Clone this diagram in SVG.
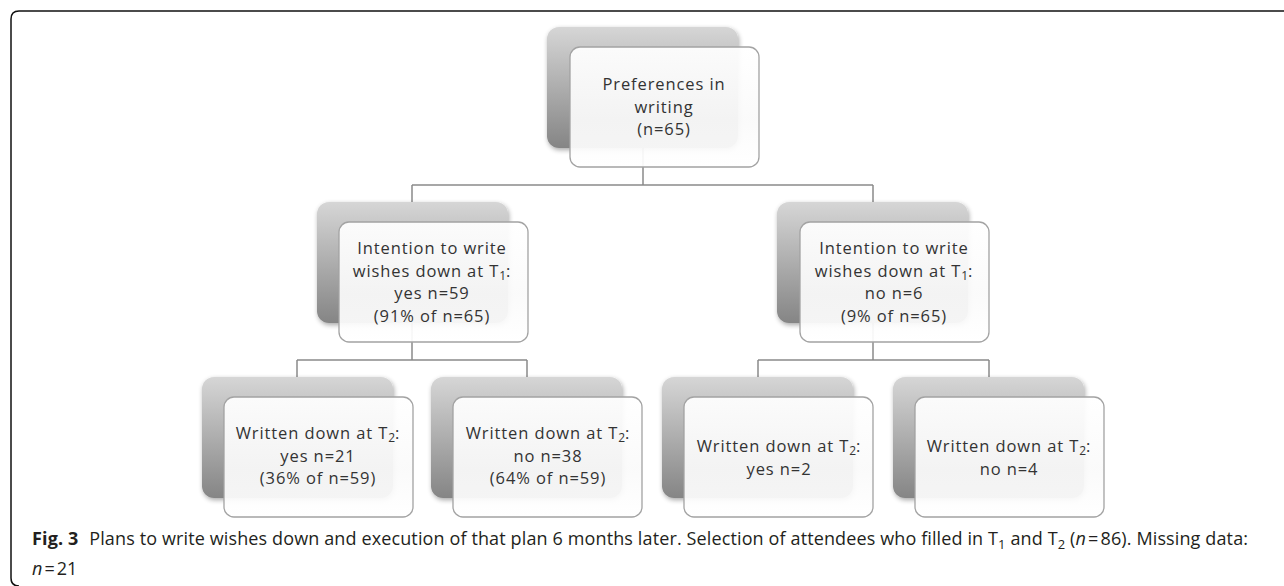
<svg xmlns="http://www.w3.org/2000/svg" width="1284" height="586" viewBox="0 0 1284 586">
<style>
.back{fill:url(#bg);}
.front{fill:url(#fg);fill-opacity:0.93;stroke:#a3a3a3;stroke-width:1.3;}
.lbl{font-family:"Open Sans","Liberation Sans",sans-serif;font-size:16.5px;letter-spacing:0.9px;fill:#333333;text-anchor:middle;}
.sub{font-size:12px;letter-spacing:0;}
.conn{stroke:#8a8a8a;stroke-width:1.5;fill:none;}
.cap{font-family:"Open Sans","Liberation Sans",sans-serif;font-size:18px;fill:#231f20;}
.csub{font-size:13px;}
</style>
<defs>
<linearGradient id="bg" x1="0" y1="0" x2="0" y2="1">
<stop offset="0" stop-color="#d6d6d6"/>
<stop offset="1" stop-color="#858585"/>
</linearGradient>
<linearGradient id="fg" x1="0" y1="0" x2="0" y2="1">
<stop offset="0" stop-color="#ffffff"/>
<stop offset="0.6" stop-color="#fafafa"/>
<stop offset="1" stop-color="#ffffff"/>
</linearGradient>
<filter id="sh" x="-10%" y="-10%" width="130%" height="130%">
<feGaussianBlur in="SourceAlpha" stdDeviation="2.5"/>
<feOffset dx="1" dy="2" result="b"/>
<feComponentTransfer><feFuncA type="linear" slope="0.35"/></feComponentTransfer>
<feMerge><feMergeNode/><feMergeNode in="SourceGraphic"/></feMerge>
</filter>
</defs>
<rect width="1284" height="586" fill="#ffffff"/>
<path d="M1290 11 H19 Q11 11 11 19 V578 Q11 586 19 586" fill="none" stroke="#111" stroke-width="1.5"/>

<g id="connectors">
<path class="conn" d="M643 148 V185 M412 185 H873 M412 185 V202 M873 185 V202"/>
<path class="conn" d="M412 323 V360 M297 360 H527 M297 360 V377 M527 360 V377"/>
<path class="conn" d="M873 323 V360 M758 360 H989 M758 360 V377 M989 360 V377"/>
</g>

<g id="n0">
<rect class="back" x="547" y="27" width="191" height="121" rx="12" filter="url(#sh)"/>
<rect class="front" x="570" y="47" width="189" height="120" rx="10"/>
<text class="lbl" x="664" y="90">Preferences in</text>
<text class="lbl" x="664" y="112.5">writing</text>
<text class="lbl" x="664" y="135">(n=65)</text>
</g>

<g id="n1">
<rect class="back" x="317" y="202" width="191" height="121" rx="12" filter="url(#sh)"/>
<rect class="front" x="339" y="222" width="189" height="120" rx="10"/>
<text class="lbl" x="432" y="254">Intention to write</text>
<text class="lbl" x="432" y="276.5">wishes down at T<tspan class="sub" dy="3">1</tspan><tspan dy="-3">:</tspan></text>
<text class="lbl" x="432" y="299">yes n=59</text>
<text class="lbl" x="432" y="321.5">(91% of n=65)</text>
</g>

<g id="n2">
<rect class="back" x="777" y="202" width="191" height="121" rx="12" filter="url(#sh)"/>
<rect class="front" x="800" y="222" width="189" height="120" rx="10"/>
<text class="lbl" x="894" y="254">Intention to write</text>
<text class="lbl" x="894" y="276.5">wishes down at T<tspan class="sub" dy="3">1</tspan><tspan dy="-3">:</tspan></text>
<text class="lbl" x="894" y="299">no n=6</text>
<text class="lbl" x="894" y="321.5">(9% of n=65)</text>
</g>

<g id="n3">
<rect class="back" x="202" y="377" width="191" height="121" rx="12" filter="url(#sh)"/>
<rect class="front" x="224" y="397" width="189" height="120" rx="10"/>
<text class="lbl" x="318" y="439">Written down at T<tspan class="sub" dy="3">2</tspan><tspan dy="-3">:</tspan></text>
<text class="lbl" x="318" y="461.5">yes n=21</text>
<text class="lbl" x="318" y="484">(36% of n=59)</text>
</g>

<g id="n4">
<rect class="back" x="431" y="377" width="191" height="121" rx="12" filter="url(#sh)"/>
<rect class="front" x="453" y="397" width="189" height="120" rx="10"/>
<text class="lbl" x="548" y="439">Written down at T<tspan class="sub" dy="3">2</tspan><tspan dy="-3">:</tspan></text>
<text class="lbl" x="548" y="461.5">no n=38</text>
<text class="lbl" x="548" y="484">(64% of n=59)</text>
</g>

<g id="n5">
<rect class="back" x="662" y="377" width="191" height="121" rx="12" filter="url(#sh)"/>
<rect class="front" x="684" y="397" width="189" height="120" rx="10"/>
<text class="lbl" x="779" y="452">Written down at T<tspan class="sub" dy="3">2</tspan><tspan dy="-3">:</tspan></text>
<text class="lbl" x="779" y="474.5">yes n=2</text>
</g>

<g id="n6">
<rect class="back" x="893" y="377" width="191" height="121" rx="12" filter="url(#sh)"/>
<rect class="front" x="915" y="397" width="189" height="120" rx="10"/>
<text class="lbl" x="1009" y="452">Written down at T<tspan class="sub" dy="3">2</tspan><tspan dy="-3">:</tspan></text>
<text class="lbl" x="1009" y="474.5">no n=4</text>
</g>

<g id="caption">
<text class="cap" x="32" y="545" textLength="1216" lengthAdjust="spacing"><tspan font-weight="bold">Fig. 3</tspan><tspan dx="6"> Plans to write wishes down and execution of that plan 6 months later. Selection of attendees who filled in T</tspan><tspan class="csub" dy="4">1</tspan><tspan dy="-4"> and T</tspan><tspan class="csub" dy="4">2</tspan><tspan dy="-4"> (</tspan><tspan font-style="italic">n</tspan><tspan dx="2">=</tspan><tspan dx="2">86). Missing data:</tspan></text>
<text class="cap" x="32" y="575"><tspan font-style="italic">n</tspan><tspan dx="2">=</tspan><tspan dx="2">21</tspan></text>
</g>
</svg>
